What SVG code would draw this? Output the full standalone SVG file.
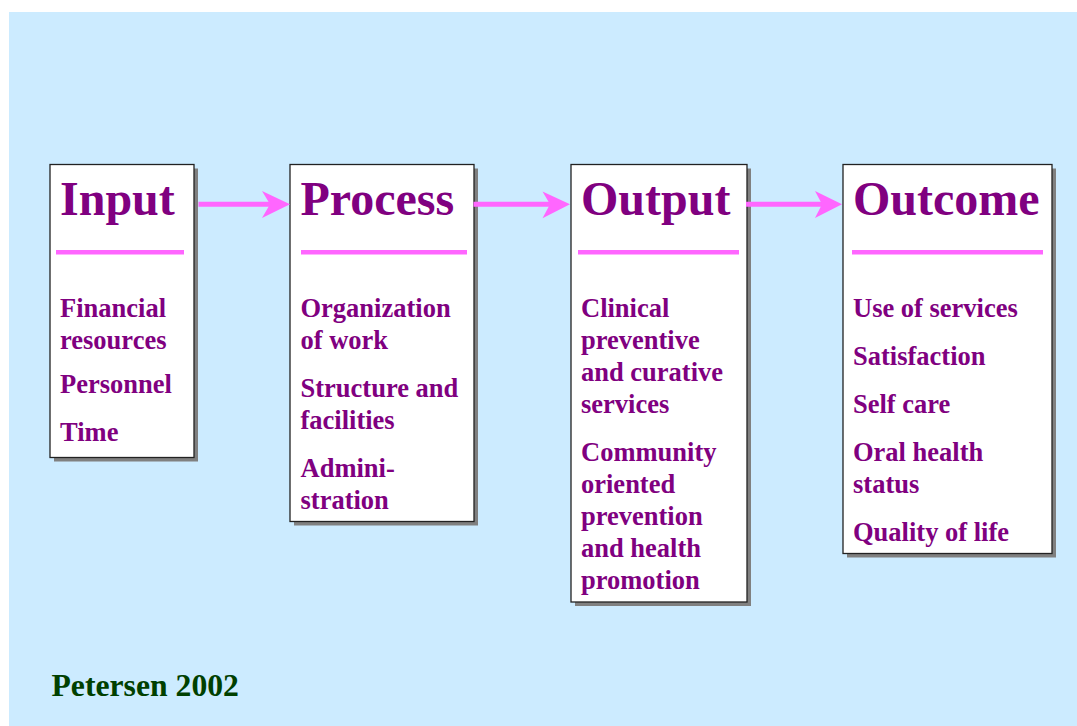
<svg xmlns="http://www.w3.org/2000/svg" width="1077" height="726" viewBox="0 0 1077 726">
<defs>
<style>
.box{fill:#fff;stroke:#222;stroke-width:1.3}
.shadow{fill:#808080}
.head{font-family:"Liberation Serif","Times New Roman",serif;font-weight:bold;font-size:48px;fill:#800080}
.body{font-family:"Liberation Serif","Times New Roman",serif;font-weight:bold;font-size:26.5px;fill:#800080}
.rule{stroke:#FF66FF;stroke-width:4.5}
.shaft{stroke:#FF66FF;stroke-width:5;fill:none}
.head-arrow{fill:#FF66FF}
.credit{font-family:"Liberation Serif","Times New Roman",serif;font-weight:bold;font-size:31.7px;fill:#004000}
</style>
</defs>
<rect x="0" y="0" width="1077" height="726" fill="#fff"/>
<rect x="9" y="12" width="1068" height="714" fill="#CCEBFF"/>

<g id="node-input">
<rect class="shadow" x="54" y="168.5" width="144" height="293"/>
<rect class="box" x="50" y="164.5" width="144" height="293"/>
<text class="head" x="60" y="215">Input</text>
<line class="rule" x1="56" y1="252.3" x2="184" y2="252.3"/>
<text class="body" x="60" y="316.7">Financial</text>
<text class="body" x="60" y="349">resources</text>
<text class="body" x="60" y="393.3">Personnel</text>
<text class="body" x="60" y="441">Time</text>
</g>

<g id="node-process">
<rect class="shadow" x="294" y="168.5" width="184" height="357"/>
<rect class="box" x="290" y="164.5" width="184" height="357"/>
<text class="head" x="300.5" y="215">Process</text>
<line class="rule" x1="301" y1="252.3" x2="467" y2="252.3"/>
<text class="body" x="300.5" y="316.7">Organization</text>
<text class="body" x="300.5" y="348.7">of work</text>
<text class="body" x="300.5" y="397">Structure and</text>
<text class="body" x="300.5" y="429">facilities</text>
<text class="body" x="300.5" y="477.3">Admini-</text>
<text class="body" x="300.5" y="509.3">stration</text>
</g>

<g id="node-output">
<rect class="shadow" x="575" y="168.5" width="176" height="437.5"/>
<rect class="box" x="571" y="164.5" width="176" height="437.5"/>
<text class="head" x="581" y="215">Output</text>
<line class="rule" x1="578" y1="252.3" x2="739" y2="252.3"/>
<text class="body" x="581" y="316.7">Clinical</text>
<text class="body" x="581" y="348.7">preventive</text>
<text class="body" x="581" y="380.7">and curative</text>
<text class="body" x="581" y="412.7">services</text>
<text class="body" x="581" y="461">Community</text>
<text class="body" x="581" y="493">oriented</text>
<text class="body" x="581" y="525">prevention</text>
<text class="body" x="581" y="557">and health</text>
<text class="body" x="581" y="589">promotion</text>
</g>

<g id="node-outcome">
<rect class="shadow" x="847" y="168.5" width="209" height="389"/>
<rect class="box" x="843" y="164.5" width="209" height="389"/>
<text class="head" x="853" y="215">Outcome</text>
<line class="rule" x1="852" y1="252.3" x2="1043" y2="252.3"/>
<text class="body" x="853" y="316.7">Use of services</text>
<text class="body" x="853" y="364.7">Satisfaction</text>
<text class="body" x="853" y="412.7">Self care</text>
<text class="body" x="853" y="460.7">Oral health</text>
<text class="body" x="853" y="492.7">status</text>
<text class="body" x="853" y="540.7">Quality of life</text>
</g>

<g id="connectors">
<line class="shaft" x1="198.5" y1="204.3" x2="272" y2="204.3"/>
<polygon class="head-arrow" points="290,204.3 262,191 270,204.3 262,218"/>
<line class="shaft" x1="473.5" y1="204.3" x2="552" y2="204.3"/>
<polygon class="head-arrow" points="570,204.3 542.5,191.5 550,204.3 542.5,218.3"/>
<line class="shaft" x1="746" y1="204.3" x2="824" y2="204.3"/>
<polygon class="head-arrow" points="842,204.3 815,191 822,204.3 815,218"/>
</g>

<text class="credit" x="51.5" y="696">Petersen 2002</text>
</svg>
